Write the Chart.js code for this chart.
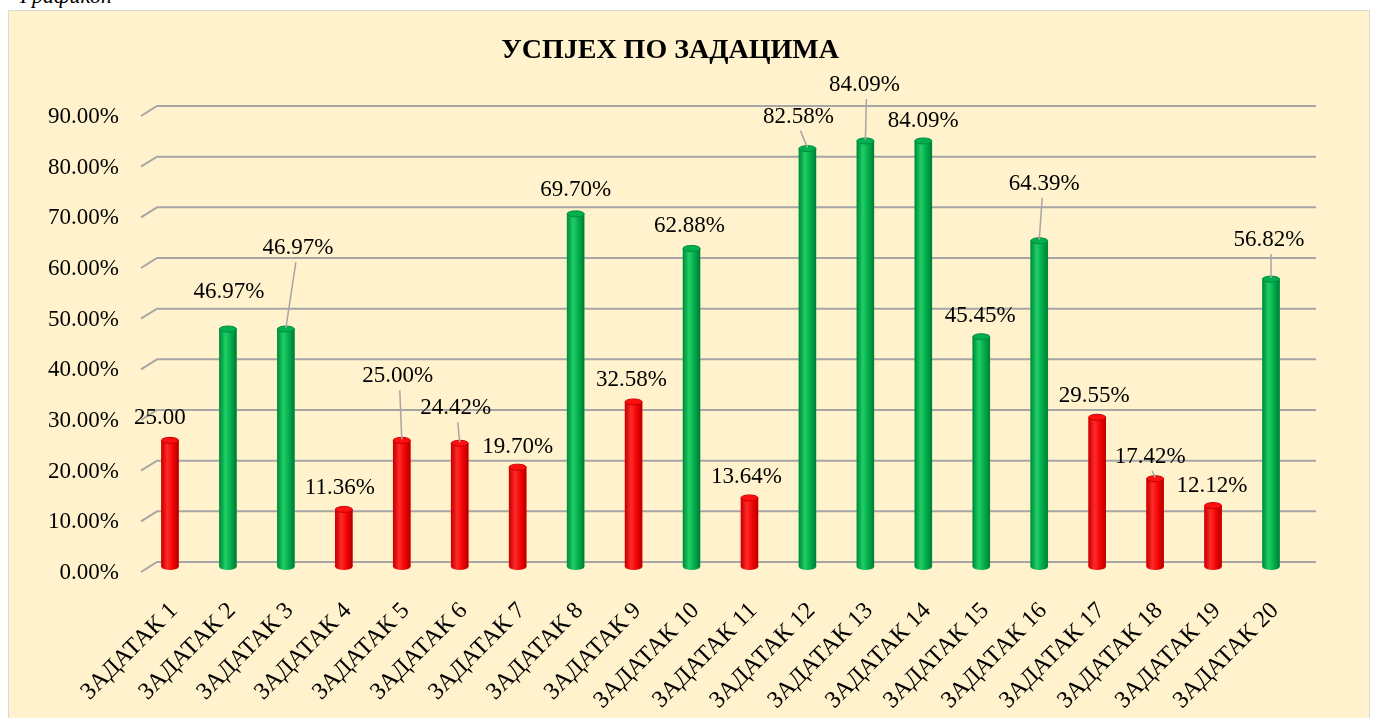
<!DOCTYPE html>
<html>
<head>
<meta charset="utf-8">
<script src="https://cdn.jsdelivr.net/npm/chart.js@4.4.0/dist/chart.umd.min.js"></script>
<style>
  body { margin: 0; background: #fff; width: 1373px; height: 718px; overflow: hidden; position: relative; }
  #cap { position: absolute; left: 20px; top: -17px; font: italic 22px "Liberation Serif"; color: #000; }
  #box { position: absolute; left: 8px; top: 10px; width: 1360px; height: 720px; border: 1px solid #d9d9d9; background: #fff2cc; }
  canvas { position: absolute; left: 0; top: 0; }
</style>
</head>
<body>
<div id="cap">Графикон</div>
<div id="box"><canvas id="c" width="1360" height="707"></canvas></div>
<script>
const categories = ["ЗАДАТАК 1","ЗАДАТАК 2","ЗАДАТАК 3","ЗАДАТАК 4","ЗАДАТАК 5","ЗАДАТАК 6","ЗАДАТАК 7","ЗАДАТАК 8","ЗАДАТАК 9","ЗАДАТАК 10",
  "ЗАДАТАК 11","ЗАДАТАК 12","ЗАДАТАК 13","ЗАДАТАК 14","ЗАДАТАК 15","ЗАДАТАК 16","ЗАДАТАК 17","ЗАДАТАК 18","ЗАДАТАК 19","ЗАДАТАК 20"];
const success = [25.00, 46.97, 46.97, 11.36, 25.00, 24.42, 19.70, 69.70, 32.58, 62.88,
  13.64, 82.58, 84.09, 84.09, 45.45, 64.39, 29.55, 17.42, 12.12, 56.82];
const valueLabels = ["25.00","46.97%","46.97%","11.36%","25.00%","24.42%","19.70%","69.70%","32.58%","62.88%",
  "13.64%","82.58%","84.09%","84.09%","45.45%","64.39%","29.55%","17.42%","12.12%","56.82%"];
const yTicks = [0, 10, 20, 30, 40, 50, 60, 70, 80, 90];

// label offset from bar top [dx, dy], and whether a leader line is drawn
const labelPos = [[-10,-22,0],[1,-37,0],[12,-81,1],[-4,-21,0],[-4,-64,1],[-4,-35,1],[0,-20,0],[0,-24,0],[-2,-22,0],[-2,-22,0],
  [-3,-21,0],[-9,-32,1],[-1,-56,1],[0,-20,0],[-1,-21,0],[5,-57,1],[-3,-21,0],[-5,-22,1],[-1,-20,0],[-2,-39,1]];

const isGood = v => v >= 40;
const FONT = "Liberation Serif";

const wall = {
  id: 'wall',
  beforeDatasetsDraw(chart) {
    const {ctx, chartArea, scales} = chart;
    const y = scales.y;
    ctx.save();
    ctx.strokeStyle = '#a6a6a6';
    ctx.lineWidth = 2;
    yTicks.forEach(t => {
      const py = y.getPixelForValue(t);
      ctx.beginPath();
      ctx.moveTo(chartArea.left, py + 5);
      ctx.lineTo(chartArea.left + 16, py - 5);
      ctx.lineTo(chartArea.right + 16, py - 5);
      ctx.stroke();
    });
    ctx.restore();
  }
};

const cylinders = {
  id: 'cylinders',
  afterDatasetsDraw(chart) {
    const {ctx} = chart;
    const meta = chart.getDatasetMeta(0);
    ctx.save();
    meta.data.forEach((bar, i) => {
      const good = isGood(success[i]);
      const w = bar.width, x0 = bar.x - w / 2, top = bar.y, base = bar.base;
      const ry = 3;
      const g = ctx.createLinearGradient(x0, 0, x0 + w, 0);
      if (good) {
        g.addColorStop(0, '#00883c'); g.addColorStop(0.35, '#1fcf63'); g.addColorStop(0.7, '#00a94a'); g.addColorStop(1, '#007a34');
      } else {
        g.addColorStop(0, '#c40000'); g.addColorStop(0.35, '#ff2a2a'); g.addColorStop(0.7, '#f00000'); g.addColorStop(1, '#b00000');
      }
      ctx.fillStyle = g;
      ctx.beginPath();
      ctx.moveTo(x0, top);
      ctx.lineTo(x0, base);
      ctx.ellipse(bar.x, base, w / 2, ry, 0, Math.PI, 0, true);
      ctx.lineTo(x0 + w, top);
      ctx.closePath();
      ctx.fill();
      ctx.beginPath();
      ctx.ellipse(bar.x, top, w / 2, ry, 0, 0, Math.PI * 2);
      ctx.fillStyle = good ? '#00b050' : '#ff1010';
      ctx.fill();
      ctx.strokeStyle = good ? '#008a3e' : '#c80000';
      ctx.lineWidth = 1;
      ctx.stroke();
    });
    ctx.restore();
  }
};

const labels = {
  id: 'valueLabels',
  afterDraw(chart) {
    const {ctx} = chart;
    const meta = chart.getDatasetMeta(0);
    ctx.save();
    ctx.font = '23px "' + FONT + '"';
    ctx.textAlign = 'center';
    ctx.textBaseline = 'middle';
    meta.data.forEach((bar, i) => {
      const [dx, dy, line] = labelPos[i];
      const lx = bar.x + dx, ly = bar.y + dy;
      if (line) {
        ctx.strokeStyle = '#a6a6a6';
        ctx.lineWidth = 1.5;
        ctx.beginPath();
        ctx.moveTo(bar.x, bar.y - 1);
        ctx.lineTo(lx + (dx > 0 ? -2 : dx < 0 ? 2 : 0), ly + 14);
        ctx.stroke();
      }
      ctx.fillStyle = '#000';
      ctx.fillText(valueLabels[i], lx, ly);
    });
    ctx.restore();
  }
};

new Chart(document.getElementById('c'), {
  type: 'bar',
  data: {
    labels: categories,
    datasets: [{
      data: success,
      backgroundColor: success.map(v => isGood(v) ? '#00b050' : '#ff0000'),
      barThickness: 17
    }]
  },
  options: {
    responsive: false,
    animation: false,
    layout: { padding: { left: 31, right: 69, top: 0, bottom: 0 } },
    plugins: {
      legend: { display: false },
      tooltip: { enabled: false },
      title: {
        display: true,
        text: 'УСПЈЕХ ПО ЗАДАЦИМА',
        color: '#000',
        font: { family: FONT, size: 28, weight: 'bold', lineHeight: 1.2 },
        padding: { top: 23, bottom: 43.4 }
      }
    },
    scales: {
      x: {
        grid: { display: false },
        border: { display: false },
        ticks: { color: '#000', font: { family: FONT, size: 24 }, minRotation: 45, maxRotation: 45, padding: 22, labelOffset: 4 },
        afterFit: s => { s.height = 151; }
      },
      y: {
        min: 0, max: 90,
        grid: { display: false },
        border: { display: false },
        afterBuildTicks: s => { s.ticks = yTicks.map(v => ({ value: v })); },
        ticks: { color: '#000', font: { family: FONT, size: 23 }, padding: 14, labelOffset: 6,
          callback: v => v.toFixed(2) + '%' },
        afterFit: s => { s.width = 101; }
      }
    }
  },
  plugins: [wall, cylinders, labels]
});
</script>
</body>
</html>
